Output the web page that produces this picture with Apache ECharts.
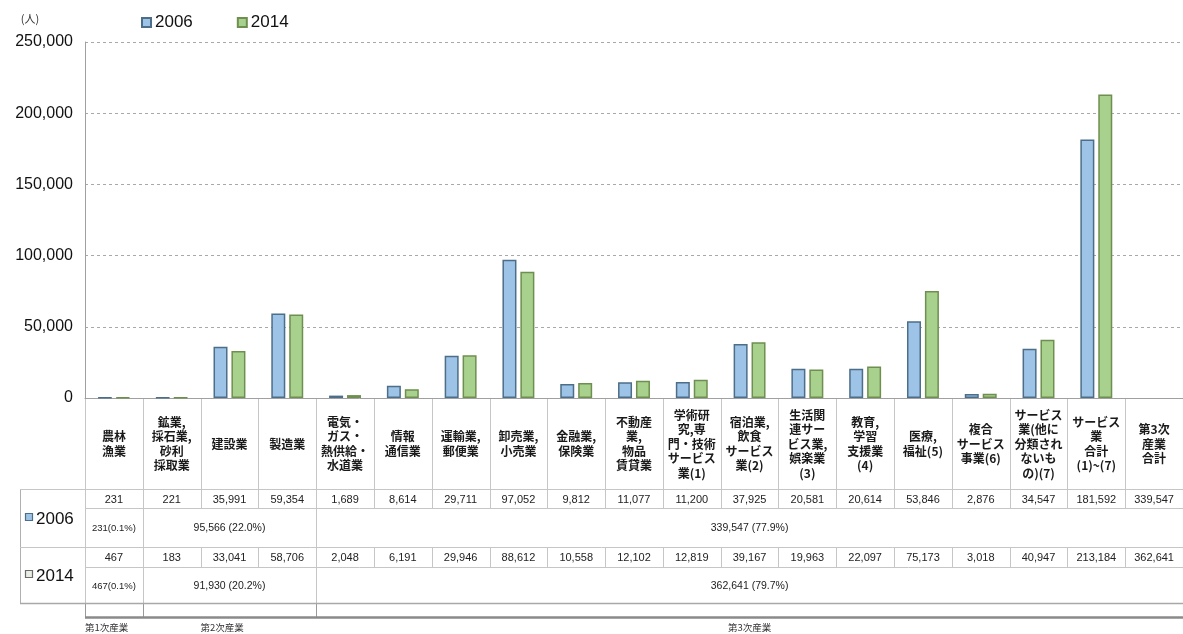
<!DOCTYPE html>
<html>
<head>
<meta charset="utf-8">
<script src="https://cdn.jsdelivr.net/npm/echarts@6/dist/echarts.min.js"></script>
<style>
  html, body { margin: 0; padding: 0; background: #fff; }
  #chart { width: 1183px; height: 634px; }
</style>
</head>
<body>
<div id="chart"></div>
<script>
// Employed persons by industry (人)
const categories = [
  '農林\n漁業',
  '鉱業,\n採石業,\n砂利\n採取業',
  '建設業',
  '製造業',
  '電気・\nガス・\n熱供給・\n水道業',
  '情報\n通信業',
  '運輸業,\n郵便業',
  '卸売業,\n小売業',
  '金融業,\n保険業',
  '不動産\n業,\n物品\n賃貸業',
  '学術研\n究,専\n門・技術\nサービス\n業(1)',
  '宿泊業,\n飲食\nサービス\n業(2)',
  '生活関\n連サー\nビス業,\n娯楽業\n(3)',
  '教育,\n学習\n支援業\n(4)',
  '医療,\n福祉(5)',
  '複合\nサービス\n事業(6)',
  'サービス\n業(他に\n分類され\nないも\nの)(7)',
  'サービス\n業\n合計\n(1)~(7)',
  '第3次\n産業\n合計'
];
const seriesNames = ['2006', '2014'];
const values2006 = [231, 221, 35991, 59354, 1689, 8614, 29711, 97052, 9812, 11077,
                    11200, 37925, 20581, 20614, 53846, 2876, 34547, 181592, 339547];
const values2014 = [467, 183, 33041, 58706, 2048, 6191, 29946, 88612, 10558, 12102,
                    12819, 39167, 19963, 22097, 75173, 3018, 40947, 213184, 362641];
// the last column (tertiary total) is listed in the table only, not drawn as bars
const barCount = 18;

// sector groups: first and last column index of each group
const sectorNames = ['第1次産業', '第2次産業', '第3次産業'];
const sectorFirst = [0, 1, 4];
const sectorLast = [0, 3, 18];
const sectorTotals2006 = ['231(0.1%)', '95,566 (22.0%)', '339,547 (77.9%)'];
const sectorTotals2014 = ['467(0.1%)', '91,930 (20.2%)', '362,641 (79.7%)'];

const yMax = 250000;
const yStep = 50000;

const FONT = '"Noto Sans CJK JP", "Noto Sans", sans-serif';
const NUM_FONT = '"Liberation Sans", Arial, sans-serif';
const BLUE = '#9dc3e6', BLUE_EDGE = '#4d6e88';
const GREEN = '#a9d18e', GREEN_EDGE = '#6e8f4f';
const LINE = '#c6c6c6';

const chart = echarts.init(document.getElementById('chart'), null, { renderer: 'canvas' });

const fmt = v => v.toLocaleString('en-US');

chart.setOption({
  animation: false,
  backgroundColor: '#fff',
  grid: { left: 85, right: 0, top: 42, bottom: 236, containLabel: false, outerBoundsMode: 'none' },
  legend: {
    data: seriesNames,
    left: 136, top: 9,
    icon: 'rect', itemWidth: 9, itemHeight: 9, itemGap: 44,
    textStyle: { fontSize: 17, color: '#111', fontFamily: NUM_FONT, padding: [0, 0, 0, -1] }
  },
  xAxis: {
    type: 'category',
    data: categories,
    axisLine: { show: true, lineStyle: { color: '#a0a0a0', width: 1 } },
    axisTick: { show: false },
    splitLine: { show: false },
    axisLabel: {
      interval: 0, margin: 46, verticalAlign: 'middle', align: 'center',
      fontSize: 12, fontWeight: 'bold', lineHeight: 14.5, color: '#1a1a1a', fontFamily: FONT
    }
  },
  yAxis: {
    type: 'value',
    min: 0, max: yMax, interval: yStep,
    axisLine: { show: true, lineStyle: { color: '#a0a0a0' } },
    axisTick: { show: false },
    splitLine: { show: true, lineStyle: { color: '#a8a8a8', type: [3, 3], width: 1 } },
    axisLabel: { fontSize: 16, color: '#111', margin: 12, fontFamily: NUM_FONT, formatter: v => fmt(v) }
  },
  series: [
    {
      name: seriesNames[0], type: 'bar', barWidth: 14, barGap: '28%',
      data: values2006.map((v, i) => i < barCount ? v : '-'),
      itemStyle: { color: BLUE, borderColor: BLUE_EDGE, borderWidth: 1.5 }
    },
    {
      name: seriesNames[1], type: 'bar', barWidth: 14,
      data: values2014.map((v, i) => i < barCount ? v : '-'),
      itemStyle: { color: GREEN, borderColor: GREEN_EDGE, borderWidth: 1.5 }
    }
  ]
});

// Data table under the axis, laid out on the category scale
function buildTable() {
  const c0 = chart.convertToPixel({ xAxisIndex: 0 }, 0);
  const c1 = chart.convertToPixel({ xAxisIndex: 0 }, 1);
  const band = c1 - c0;
  const edge = i => c0 - band / 2 + band * i;
  const center = i => c0 + band * i;
  const n = categories.length;
  const right = edge(n);
  const axisY = chart.convertToPixel({ yAxisIndex: 0 }, 0);

  const headBottom = axisY + 91;   // bottom of header row
  const r1Mid = headBottom + 19;   // 2006 values | totals divider
  const r1Bottom = headBottom + 58;
  const r2Mid = r1Bottom + 20;
  const r2Bottom = r1Bottom + 56;
  const bracketY = r2Bottom + 14;
  const boxLeft = 20;

  const els = [];
  const hline = (x1, x2, y, w = 1, col = LINE) =>
    els.push({ type: 'line', silent: true, shape: { x1, y1: Math.round(y) + 0.5, x2, y2: Math.round(y) + 0.5 },
               style: { stroke: col, lineWidth: w } });
  const vline = (x, y1, y2, w = 1, col = LINE) =>
    els.push({ type: 'line', silent: true, shape: { x1: Math.round(x) + 0.5, y1, x2: Math.round(x) + 0.5, y2 },
               style: { stroke: col, lineWidth: w } });
  const text = (t, x, y, size, opts = {}) =>
    els.push({ type: 'text', silent: true, x, y,
               style: Object.assign({ text: t, fontSize: size, fontFamily: NUM_FONT, fill: '#222',
                                      align: 'center', verticalAlign: 'middle',
                                      textAlign: 'center', textVerticalAlign: 'middle' }, opts) });

  // header and value-row column lines
  for (let i = 0; i <= n; i++) {
    vline(edge(i), axisY, headBottom);
    vline(edge(i), headBottom, r1Mid);
    vline(edge(i), r1Bottom, r2Mid);
  }
  // sector-group lines through the totals rows and down to the bracket
  const groupEdges = [edge(0)].concat(sectorLast.map(i => edge(i + 1)));
  groupEdges.forEach((x, k) => {
    if (k === groupEdges.length - 1) return;
    vline(x, r1Mid, r1Bottom);
    vline(x, r2Mid, r2Bottom);
    vline(x, r2Bottom, bracketY, 1, '#9a9a9a');
  });
  // outer box on the left
  vline(boxLeft, headBottom, r2Bottom, 1, '#b0b0b0');
  hline(boxLeft, right, headBottom);
  hline(edge(0), right, r1Mid);
  hline(boxLeft, right, r1Bottom);
  hline(edge(0), right, r2Mid);
  hline(boxLeft, right, r2Bottom, 1.5, '#a8a8a8');
  hline(edge(0), right, bracketY, 2.5, '#8a8a8a');

  // values
  for (let i = 0; i < n; i++) {
    text(fmt(values2006[i]), center(i), (headBottom + r1Mid) / 2 + 1, 11);
    text(fmt(values2014[i]), center(i), (r1Bottom + r2Mid) / 2 + 1, 11);
  }
  // sector totals
  sectorFirst.forEach((f, k) => {
    const cx = (edge(f) + edge(sectorLast[k] + 1)) / 2;
    const sz = k === 0 ? 9.5 : 10.5;
    text(sectorTotals2006[k], cx, (r1Mid + r1Bottom) / 2 + 1, sz);
    text(sectorTotals2014[k], cx, (r2Mid + r2Bottom) / 2 + 1, sz);
  });
  // sector names under the bracket
  const namePos = [edge(0), edge(2), (edge(4) + edge(n)) / 2];
  sectorNames.forEach((s, k) => {
    text(s, namePos[k], bracketY + 10, 9.5,
         { fontFamily: FONT, fill: '#333', align: k === 2 ? 'center' : 'left', textAlign: k === 2 ? 'center' : 'left' });
  });

  // row keys
  const keys = [
    { name: seriesNames[0], y: (headBottom + r1Bottom) / 2, fill: BLUE, stroke: BLUE_EDGE },
    { name: seriesNames[1], y: (r1Bottom + r2Bottom) / 2, fill: '#e8eee4', stroke: '#6a6a6a' }
  ];
  keys.forEach(k => {
    els.push({ type: 'rect', silent: true, shape: { x: 25.5, y: Math.round(k.y) - 4.5, width: 7, height: 7 },
               style: { fill: k.fill, stroke: k.stroke, lineWidth: 1.2 } });
    text(k.name, 36, k.y + 1, 17, { align: 'left', textAlign: 'left', fill: '#111' });
  });

  // unit label
  text('(人)', 30, 19, 11, { fontFamily: FONT, fill: '#333' });

  chart.setOption({ graphic: { elements: els } });
}

buildTable();
</script>
</body>
</html>
